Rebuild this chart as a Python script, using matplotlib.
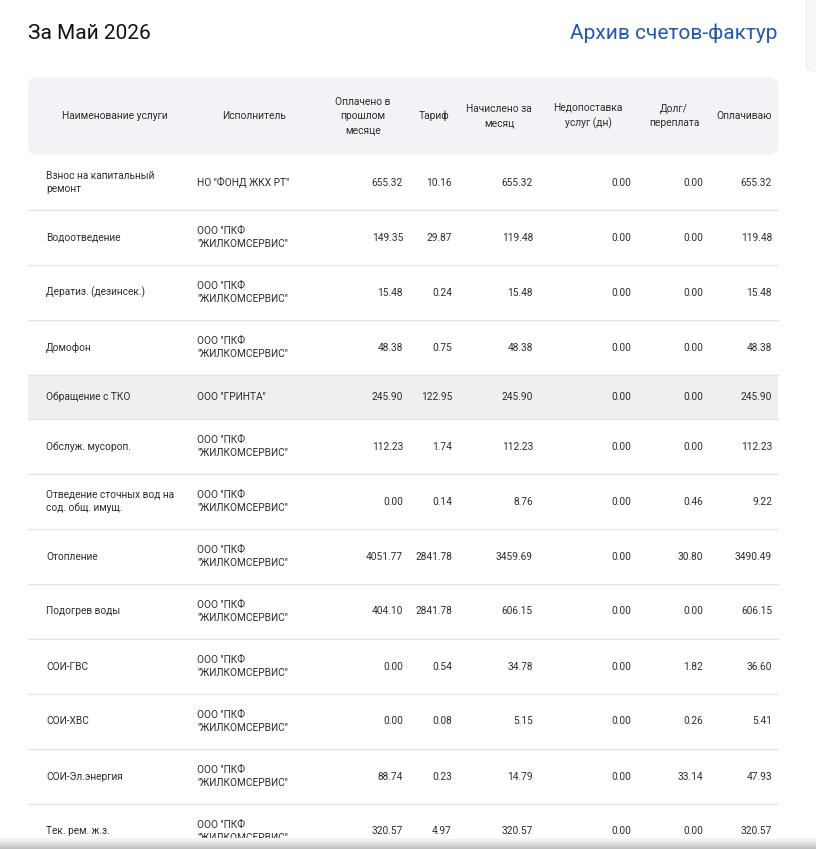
import matplotlib.pyplot as plt
import numpy as np
from matplotlib.patches import FancyBboxPatch, Rectangle

# --- table data ---
services = ['Взнос на капитальный\nремонт', 'Водоотведение', 'Дератиз. (дезинсек.)', 'Домофон',
            'Обращение с ТКО', 'Обслуж. мусороп.', 'Отведение сточных вод на\nсод. общ. имущ.',
            'Отопление', 'Подогрев воды', 'СОИ-ГВС', 'СОИ-ХВС', 'СОИ-Эл.энергия', 'Тек. рем. ж.з.']
PKF = 'ООО "ПКФ\n"ЖИЛКОМСЕРВИС"'
executors = ['НО "ФОНД ЖКХ РТ"', PKF, PKF, PKF, 'ООО "ГРИНТА"', PKF, PKF,
             PKF, PKF, PKF, PKF, PKF, PKF]
paid_prev = [655.32, 149.35, 15.48, 48.38, 245.90, 112.23, 0.00, 4051.77, 404.10, 0.00, 0.00, 88.74, 320.57]
tariff = [10.16, 29.87, 0.24, 0.75, 122.95, 1.74, 0.14, 2841.78, 2841.78, 0.54, 0.08, 0.23, 4.97]
charged = [655.32, 119.48, 15.48, 48.38, 245.90, 112.23, 8.76, 3459.69, 606.15, 34.78, 5.15, 14.79, 320.57]
shortfall = [0.00] * 13
debt = [0.00, 0.00, 0.00, 0.00, 0.00, 0.00, 0.46, 30.80, 0.00, 1.82, 0.26, 33.14, 0.00]
to_pay = [655.32, 119.48, 15.48, 48.38, 245.90, 112.23, 9.22, 3490.49, 606.15, 36.60, 5.41, 47.93, 320.57]

headers = ['Наименование услуги', 'Исполнитель', 'Оплачено в\nпрошлом\nмесяце', 'Тариф',
           'Начислено за\nмесяц', 'Недопоставка\nуслуг (дн)', 'Долг/\nпереплата', 'Оплачиваю']

TITLE = 'За Май 2026'
LINK = 'Архив счетов-фактур'
HOVER_ROW = 4

# --- layout (pixel units) ---
W, H = 816, 849
LEFT, RIGHT = 28, 778
head_x = [115, 254, 363, 434, 499, 588, 674, 744]
num_right = [403, 452, 533, 631, 703, 772]
NAME_X, EXEC_X = 46, 197
TEXT = '#2e2e2e'
FONT = ['Roboto', 'DejaVu Sans']

plt.rcParams['font.family'] = FONT

fig = plt.figure(figsize=(W / 100, H / 100), dpi=100)
ax = fig.add_axes([0, 0, 1, 1])
ax.set_xlim(0, W)
ax.set_ylim(H, 0)
ax.axis('off')

# title + link
ax.text(LEFT, 33, TITLE, fontsize=15, color='#111111', va='center', ha='left')
ax.text(RIGHT, 33, LINK, fontsize=15, color='#2457b3', va='center', ha='right')

# side panel peeking in at top-right
ax.add_patch(FancyBboxPatch((806, -30), 40, 101, boxstyle='round,pad=0,rounding_size=8',
                            fc='#f6f7f8', ec='#ebecee', lw=0.8))

# header box
ax.add_patch(FancyBboxPatch((LEFT, 77), RIGHT - LEFT, 78, boxstyle='round,pad=0,rounding_size=10',
                            fc='#f1f3f6', ec='none'))
for x, h in zip(head_x, headers):
    ax.text(x, 116, h, fontsize=7.4, color=TEXT, ha='center', va='center',
            multialignment='center', linespacing=1.55)

# body rows
y = 155
for i, name in enumerate(services):
    multi = '\n' in name or '\n' in executors[i]
    rh = 55 if multi else 44
    cy = y + rh / 2
    if i == HOVER_ROW:
        ax.add_patch(Rectangle((LEFT, y), RIGHT - LEFT, rh, fc='#efefef', ec='none'))
    ax.text(NAME_X, cy, name, fontsize=7.3, color=TEXT, ha='left', va='center', linespacing=1.3)
    ax.text(EXEC_X, cy, executors[i], fontsize=7.3, color=TEXT, ha='left', va='center', linespacing=1.3)
    vals = [paid_prev[i], tariff[i], charged[i], shortfall[i], debt[i], to_pay[i]]
    for xr, v in zip(num_right, vals):
        ax.text(xr, cy, f'{v:.2f}', fontsize=7.3, color=TEXT, ha='right', va='center')
    y += rh
    if i < len(services) - 1:
        ax.plot([LEFT, RIGHT], [y, y], color='#e4e4e4', lw=0.9)

# bottom shadow of the window edge
grad = np.linspace(0, 1, 30).reshape(-1, 1)
ax.imshow(grad, cmap='Greys', vmin=-0.2, vmax=3.0, extent=(0, W, H, 838), aspect='auto', zorder=5)
ax.set_xlim(0, W)
ax.set_ylim(H, 0)

fig.savefig('out.png', dpi=100, facecolor='white')
